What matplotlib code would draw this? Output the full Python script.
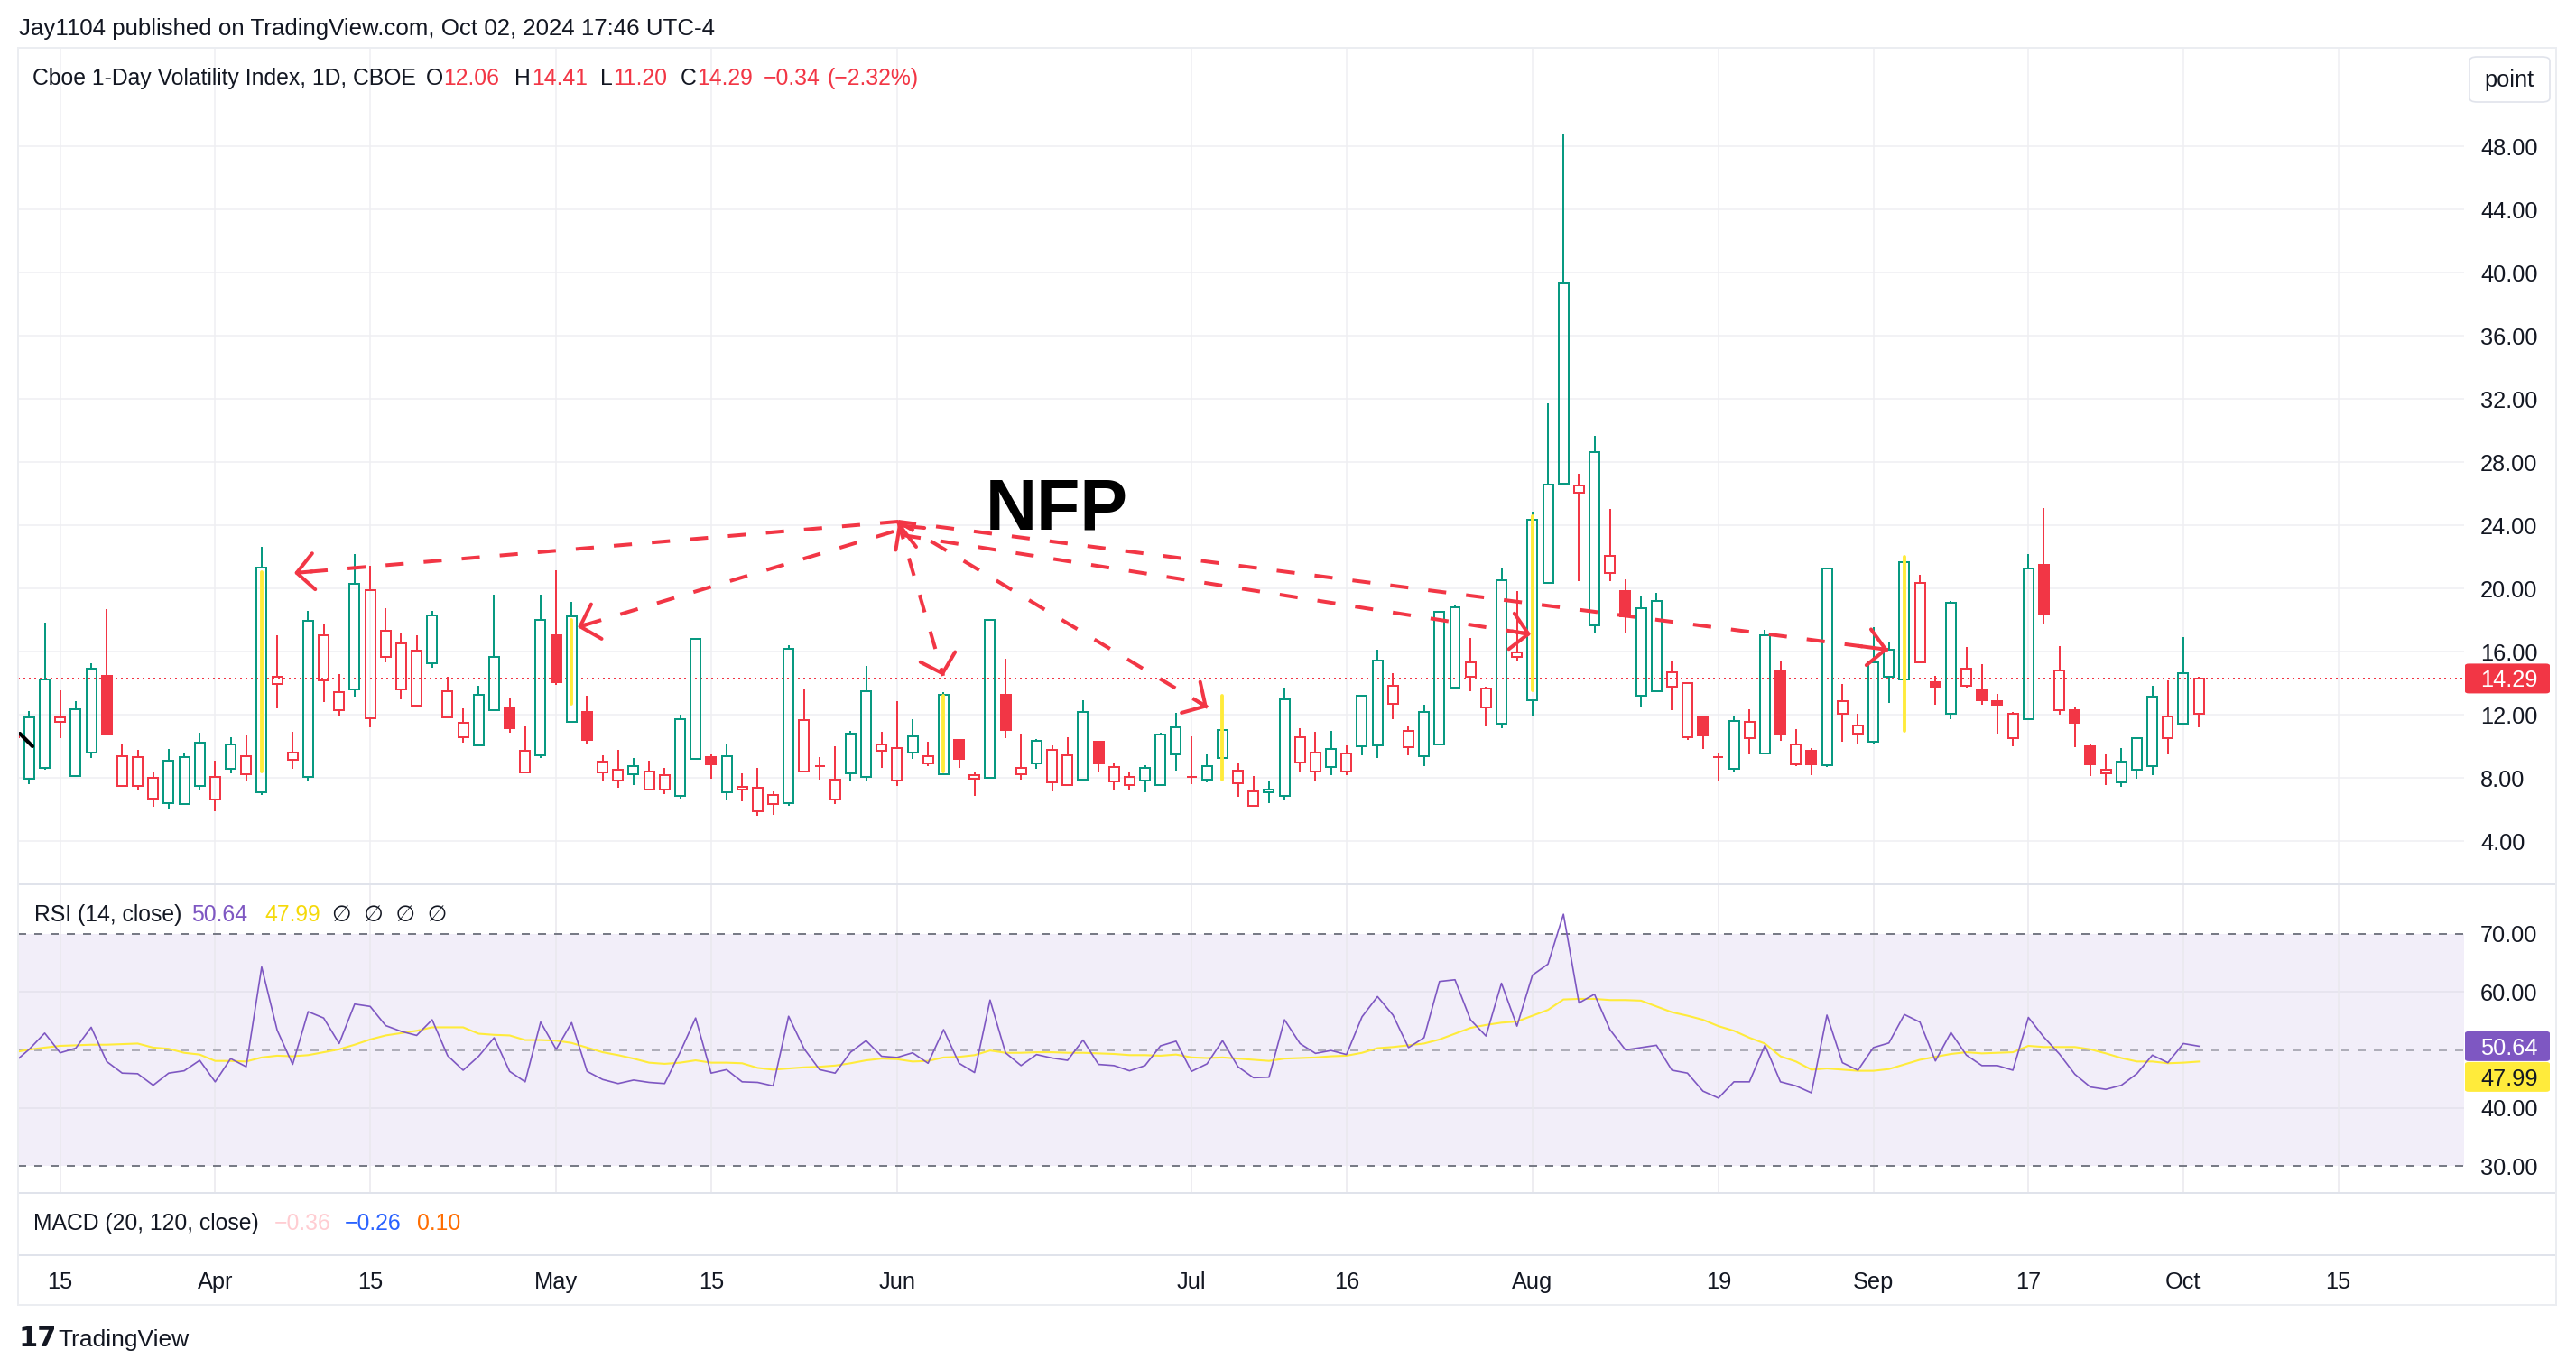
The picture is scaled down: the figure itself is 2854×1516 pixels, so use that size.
import matplotlib
matplotlib.use("Agg")
import matplotlib.pyplot as plt
from matplotlib.patches import Rectangle, FancyBboxPatch
from matplotlib.lines import Line2D
from matplotlib.transforms import blended_transform_factory

W, H = 2854, 1516
plt.rcParams['font.family'] = ['Liberation Sans', 'DejaVu Sans']

# ---- VIX1D daily candles, bar index 0 = Apr 1 2024, last bar = Oct 2 2024 ----
bar_idx = list(range(-13, 129))

opens = [10.55, 7.94, 8.61, 11.52, 8.10, 9.62, 14.48, 7.50, 7.47, 6.67,      # -13..-4
         6.42, 6.36, 7.47,                                                   # -3..-1
         6.61, 8.57, 8.23, 7.09, 13.94, 9.12, 8.04, 14.19, 12.27, 13.60,    # 0..9
         11.75, 15.66, 13.60, 12.57, 15.28, 11.81, 10.55, 10.04, 12.31, 12.42,
         8.32, 9.41, 17.05, 11.52, 12.19, 8.35, 7.84, 8.23, 7.28, 7.28,
         6.88, 9.18, 9.33, 7.09, 7.24, 5.91, 6.32, 6.42, 8.40, 8.75,
         6.61, 8.27, 8.04, 9.70, 7.85, 9.60, 8.90, 8.21, 10.42, 7.94,
         7.98, 13.28, 8.23, 8.90, 7.70, 7.52, 7.89, 10.27, 7.75, 7.52,
         7.81, 7.52, 9.50, 8.05, 7.90, 9.24, 7.66, 6.23, 7.09, 6.85,
         8.95, 8.38, 8.67, 8.42, 9.99, 10.04, 12.70, 9.94, 9.36, 10.10,
         13.71, 14.42, 12.48, 11.42, 15.65, 12.93, 20.37, 26.63, 26.08, 17.65,
         20.97, 19.83, 13.18, 13.48, 13.78, 10.55, 11.81, 9.33, 8.58, 10.52,
         9.55, 14.78, 8.88, 9.70, 8.79, 12.06, 10.82, 10.30, 14.38, 14.23,
         15.29, 14.08, 12.04, 13.85, 13.52, 12.84, 10.53, 11.73, 21.47, 12.31,
         12.30, 9.98, 8.29, 7.70, 8.54, 8.73, 10.53, 11.45, 12.06]

highs = [11.20, 12.23, 17.85, 13.52, 12.84, 15.24, 18.67, 10.19, 9.75, 8.42,
         9.85, 9.56, 10.84,
         9.07, 10.55, 10.70, 22.61, 17.05, 10.93, 18.59, 17.70, 14.55, 22.19,
         21.43, 18.76, 17.22, 17.05, 18.59, 14.42, 12.42, 13.85, 19.62, 13.07,
         11.33, 19.62, 21.12, 19.12, 13.18, 9.41, 9.75, 9.28, 9.09, 8.61,
         11.98, 16.85, 9.47, 10.13, 8.27, 8.61, 7.12, 16.38, 13.60, 9.33,
         9.98, 10.99, 15.09, 10.90, 12.84, 11.70, 10.27, 13.41, 10.48, 8.38,
         18.07, 15.56, 10.82, 10.48, 10.04, 10.55, 12.93, 10.27, 8.99, 8.38,
         8.80, 10.86, 12.13, 10.61, 9.47, 11.66, 8.99, 8.10, 7.81, 13.70,
         11.12, 10.93, 10.99, 10.04, 13.28, 16.13, 14.61, 11.33, 12.65, 18.55,
         18.93, 16.84, 13.78, 21.28, 19.83, 24.87, 31.74, 48.79, 27.23, 29.65,
         25.03, 20.58, 19.52, 19.74, 15.38, 13.99, 11.97, 9.55, 11.88, 12.36,
         17.35, 15.35, 11.06, 9.91, 21.34, 13.93, 12.03, 17.56, 16.65, 22.00,
         20.84, 14.48, 19.22, 16.27, 15.18, 13.33, 12.19, 22.19, 25.10, 16.32,
         12.46, 10.10, 9.47, 9.90, 10.51, 13.85, 14.17, 16.90, 14.41]

lows = [10.00, 7.62, 8.52, 10.51, 8.05, 9.28, 10.74, 7.43, 7.22, 6.17,
        6.08, 6.29, 7.28,
        5.89, 8.30, 7.75, 6.93, 12.40, 8.57, 7.81, 12.80, 11.94, 13.14,
        11.22, 15.31, 12.99, 12.57, 14.99, 11.81, 10.23, 10.04, 12.31, 10.86,
        8.32, 9.28, 13.91, 11.52, 10.11, 7.81, 7.37, 7.56, 7.18, 6.99,
        6.70, 9.15, 7.94, 6.57, 6.51, 5.62, 5.66, 6.23, 8.40, 7.89,
        6.32, 7.75, 7.75, 8.65, 7.50, 9.22, 8.76, 8.17, 8.65, 6.86,
        7.98, 10.51, 7.89, 8.55, 7.12, 7.52, 7.89, 8.32, 7.18, 7.28,
        7.09, 7.47, 8.48, 7.62, 7.71, 8.90, 6.80, 6.23, 6.42, 6.55,
        8.42, 7.75, 8.19, 8.19, 9.43, 9.28, 11.71, 9.43, 8.76, 10.10,
        13.71, 13.50, 11.30, 11.12, 15.44, 11.97, 20.37, 26.63, 20.43, 17.17,
        20.43, 17.20, 12.48, 13.48, 12.27, 10.39, 9.85, 7.79, 8.40, 9.49,
        9.55, 10.36, 8.73, 8.19, 8.70, 10.30, 10.09, 10.15, 12.72, 12.81,
        15.29, 12.61, 11.71, 13.71, 12.61, 10.80, 10.00, 11.73, 17.70, 12.00,
        9.94, 8.10, 7.52, 7.43, 7.94, 8.17, 9.47, 11.45, 11.20]

closes = [10.70, 11.85, 14.23, 11.81, 12.36, 14.93, 10.80, 9.37, 9.33, 8.00,
          9.09, 9.33, 10.23,
          8.08, 10.13, 9.37, 21.31, 14.38, 9.60, 17.94, 17.03, 13.43, 20.29,
          19.89, 17.31, 16.51, 16.04, 18.29, 13.47, 11.50, 13.24, 15.66, 11.14,
          9.71, 18.00, 14.08, 18.23, 10.40, 9.03, 8.54, 8.76, 8.42, 8.19,
          11.71, 16.80, 8.84, 9.37, 7.43, 7.37, 6.91, 16.19, 11.66, 8.73,
          7.89, 10.80, 13.47, 10.10, 9.89, 10.61, 9.37, 13.24, 9.22, 8.17,
          18.00, 11.05, 8.61, 10.36, 9.79, 9.43, 12.17, 8.90, 8.70, 8.04,
          8.65, 10.76, 11.22, 8.03, 8.76, 11.03, 8.46, 7.14, 7.28, 13.00,
          10.58, 9.60, 9.85, 9.52, 13.18, 15.43, 13.81, 10.99, 12.16, 18.51,
          18.80, 15.31, 13.63, 20.52, 15.96, 24.33, 26.57, 39.29, 26.54, 28.65,
          22.03, 18.25, 18.77, 19.22, 14.69, 13.99, 10.67, 9.29, 11.60, 11.57,
          17.01, 10.76, 10.09, 8.85, 21.28, 12.87, 11.30, 15.29, 16.14, 21.64,
          20.37, 13.79, 19.09, 14.93, 12.93, 12.65, 12.08, 21.28, 18.36, 14.80,
          11.47, 8.86, 8.50, 9.03, 10.51, 13.14, 11.89, 14.63, 14.29]
prev_close_first = 11.00

rsi = [47.8, 50.1, 52.9, 49.5, 50.3, 53.9, 48.0, 46.0, 45.9, 43.9,
       46.0, 46.4, 48.2,
       44.5, 48.5, 47.1, 64.3, 53.4, 47.5, 56.6, 55.5, 51.1, 57.9,
       57.5, 54.2, 53.2, 52.5, 55.2, 49.0, 46.5, 48.9, 52.1, 46.3,
       44.5, 54.8, 50.1, 54.7, 46.3, 44.9, 44.2, 44.8, 44.4, 44.2,
       49.6, 55.5, 46.0, 46.6, 44.5, 44.4, 43.8, 55.8, 50.2, 46.6,
       46.0, 49.6, 51.6, 48.9, 48.7, 49.5, 47.7, 53.5, 47.7, 46.1,
       58.6, 49.5, 47.3, 49.2, 48.6, 48.2, 51.7, 47.5, 47.3, 46.4,
       47.3, 50.7, 51.5, 46.3, 47.6, 51.6, 47.1, 45.2, 45.3, 55.2,
       51.1, 49.4, 49.9, 49.2, 55.7, 59.2, 56.0, 50.4, 52.1, 61.8,
       62.1, 55.2, 52.4, 61.5, 54.1, 62.9, 64.8, 73.4, 58.1, 59.6,
       53.5, 50.0, 50.4, 50.8, 46.5, 46.0, 42.9, 41.7, 44.5, 44.5,
       50.8, 44.5, 43.8, 42.6, 56.0, 47.8, 46.5, 50.4, 51.2, 56.1,
       54.8, 48.1, 53.0, 49.1, 47.3, 47.3, 46.5, 55.6, 52.2, 49.3,
       45.8, 43.6, 43.2, 43.9, 45.9, 49.1, 47.8, 51.1, 50.64]

rsi_ma = [49.6, 50.05, 50.4, 50.7, 50.8, 50.9, 50.9, 51.0, 51.1, 50.4,
          50.2, 49.5, 49.2,
          48.1, 48.1, 48.0, 48.7, 49.0, 48.9, 49.1, 49.6, 50.1, 50.9,
          51.8, 52.5, 52.9, 53.3, 53.9, 53.9, 53.9, 52.8, 52.6, 52.5,
          51.7, 51.7, 51.6, 51.2, 50.4, 49.6, 49.1, 48.5, 47.8, 47.6,
          47.8, 48.2, 47.8, 47.8, 47.7, 46.9, 46.6, 46.8, 47.0, 47.1,
          47.3, 47.7, 48.2, 48.5, 48.4, 48.0, 48.1, 48.7, 48.8, 49.1,
          49.9, 49.5, 49.5, 49.6, 49.6, 49.5, 49.5, 49.4, 49.3, 49.1,
          49.1, 49.0, 49.2, 48.7, 48.6, 48.7, 48.5, 48.3, 48.1, 48.5,
          48.6, 48.7, 48.9, 49.0, 49.5, 50.3, 50.5, 50.8, 51.1, 51.8,
          52.8, 53.8, 54.3, 54.7, 54.9, 55.9, 56.9, 58.7, 58.8, 58.8,
          58.6, 58.6, 58.5, 57.5, 56.5, 55.9, 55.2, 54.1, 53.3, 52.1,
          51.1, 48.9, 48.0, 46.6, 46.8, 46.6, 46.4, 46.4, 46.7, 47.5,
          48.3, 48.8, 49.3, 49.6, 49.4, 49.5, 49.6, 50.7, 50.5, 50.5,
          50.5, 50.1, 49.4, 48.6, 48.0, 48.0, 47.7, 47.8, 47.99]

tick_idx = [-10, 0, 10, 22, 32, 44, 63, 73, 85, 97, 107, 117, 127, 137]
tick_lbl = ['15', 'Apr', '15', 'May', '15', 'Jun', 'Jul', '16', 'Aug', '19',
            'Sep', '17', 'Oct', '15']
price_ticks = [4, 8, 12, 16, 20, 24, 28, 32, 36, 40, 44, 48]
rsi_ticks = [30, 40, 60, 70]

last_price = 14.29
rsi_last = 50.64
rsi_ma_last = 47.99

# NFP highlighter strokes: (bar, low, high)
nfp_marks = [(3, 8.38, 21.03), (23, 12.67, 17.98), (47, 8.42, 13.18),
             (65, 7.89, 13.18), (85, 13.54, 24.57), (109, 11.0, 22.0)]
# NFP arrows: (start bar, start price, tip bar, tip price)
nfp_arrows = [(44.07, 24.23, 5.10, 20.97),
              (43.77, 23.60, 23.39, 17.54),
              (44.07, 24.23, 46.98, 14.46),
              (44.07, 24.23, 64.04, 12.46),
              (44.36, 23.37, 84.90, 17.09),
              (44.07, 24.23, 107.95, 16.11)]
apex_head = (45.23, 22.63, 44.07, 24.11)

GREEN = '#089981'
RED = '#F23645'
TXT = '#131722'
GRID = '#EFEFF2'
SEP = '#E0E3EB'
PURPLE = '#7E57C2'
YELLOW = '#FFEB3B'
FS = 18.3
FL = 17.8

XL = ((20 - 238.4) / 17.17, (2730 - 238.4) / 17.17)


def rect(x0, y0, x1, y1):
    return [x0 / W, 1 - y1 / H, (x1 - x0) / W, (y1 - y0) / H]


fig = plt.figure(figsize=(W / 100, H / 100), dpi=100)
fig.patch.set_facecolor('white')

# ---------------- price pane ----------------
ax = fig.add_axes(rect(20, 53, 2730, 980))
ax.set_xlim(*XL)
ax.set_ylim(48 - (980 - 162) / 17.5, 48 + (162 - 53) / 17.5)
for s in ax.spines.values():
    s.set_visible(False)
ax.set_xticks([])
ax.yaxis.tick_right()
ax.set_yticks(price_ticks)
ax.set_yticklabels(['%.2f' % v for v in price_ticks])
ax.tick_params(axis='y', length=0, pad=13, labelsize=FS, labelcolor=TXT)
for v in price_ticks:
    ax.axhline(v, color=GRID, lw=1.1, zorder=0.5)
for i in tick_idx:
    ax.axvline(i, color=GRID, lw=1.1, zorder=0.5)

ax.axhline(last_price, color=RED, lw=1.44, linestyle=(0, (1, 2)), zorder=1.5)

pc = prev_close_first
for i, o, h, l, c in zip(bar_idx, opens, highs, lows, closes):
    col = GREEN if c >= pc else RED
    pc = c
    lo, hi = min(o, c), max(o, c)
    ax.vlines(i, hi, h, color=col, lw=1.44, zorder=2)
    ax.vlines(i, l, lo, color=col, lw=1.44, zorder=2)
    ax.add_patch(Rectangle((i - 0.32, lo), 0.64, hi - lo,
                           facecolor='none' if c >= o else col,
                           edgecolor=col, lw=1.44, zorder=2.1))

for i, lo, hi in nfp_marks:
    ax.plot([i, i], [lo, hi], color=YELLOW, lw=2.8, solid_capstyle='round', zorder=3)

head = '->,head_length=0.68,head_width=0.72'
for x0, y0, x1, y1 in nfp_arrows:
    ax.plot([x0, x1], [y0, y1], color=RED, lw=2.9, dashes=(5, 5.5), zorder=4)
    ax.annotate('', xy=(x1, y1), xytext=(x1 + (x0 - x1) * 0.03, y1 + (y0 - y1) * 0.03),
                arrowprops=dict(arrowstyle=head, color=RED, lw=2.9, shrinkA=0,
                                shrinkB=0, mutation_scale=20), zorder=4)
ax.annotate('', xy=apex_head[2:], xytext=apex_head[:2],
            arrowprops=dict(arrowstyle=head, color=RED, lw=2.9, shrinkA=0, shrinkB=0,
                            mutation_scale=20), zorder=4)

ax.plot([-12.6, -11.79], [10.8, 10.0], color='black', lw=3, solid_capstyle='round', zorder=5)

ax.text(49.7, 23.77, 'NFP', fontsize=57, fontweight='bold', color='black',
        va='baseline', ha='left', zorder=6)

# ---------------- RSI pane ----------------
axr = fig.add_axes(rect(20, 980, 2730, 1322))
axr.set_xlim(*XL)
axr.set_ylim(30 - (1322 - 1292) / 6.425, 70 + (1035 - 980) / 6.425)
for s in axr.spines.values():
    s.set_visible(False)
axr.set_xticks([])
axr.yaxis.tick_right()
axr.set_yticks(rsi_ticks)
axr.set_yticklabels(['%.2f' % v for v in rsi_ticks])
axr.tick_params(axis='y', length=0, pad=13, labelsize=FS, labelcolor=TXT)
axr.axhspan(30, 70, color='#F2EEF9', lw=0, zorder=0)
for v in (40, 60):
    axr.axhline(v, color='#E4E1EC', lw=1.1, zorder=0.5)
for i in tick_idx:
    axr.axvline(i, color='#E9E8EE', lw=1.1, zorder=0.5)
for v in (30, 70):
    axr.axhline(v, color='#787B86', lw=1.44, dashes=(4.5, 4.5), zorder=1)
axr.axhline(50, color='#787B86', alpha=0.55, lw=1.44, dashes=(4.5, 4.5), zorder=1)
axr.plot(bar_idx, rsi_ma, color=YELLOW, lw=1.5, zorder=2)
axr.plot(bar_idx, rsi, color=PURPLE, lw=1.2, zorder=3)

# ---------------- MACD pane + time scale ----------------
axm = fig.add_axes(rect(20, 1322, 2730, 1391))
axm.set_xlim(*XL)
axm.axis('off')

axt = fig.add_axes(rect(20, 1391, 2730, 1446))
axt.set_xlim(*XL)
axt.axis('off')
tt = blended_transform_factory(axt.transData, axt.transAxes)
for i, lbl in zip(tick_idx, tick_lbl):
    axt.text(i, 0.327, lbl, transform=tt, ha='center', va='baseline',
             fontsize=FS, color=TXT)

# ---------------- frame and separators ----------------
def hline(y, x0=20, x1=2832, color=SEP, lw=1.44):
    fig.add_artist(Line2D([x0 / W, x1 / W], [1 - y / H] * 2, color=color, lw=lw,
                          transform=fig.transFigure, zorder=3))


def vline(x, y0, y1, color=SEP, lw=1.44):
    fig.add_artist(Line2D([x / W] * 2, [1 - y0 / H, 1 - y1 / H], color=color, lw=lw,
                          transform=fig.transFigure, zorder=3))


hline(53, color='#EBEDF1')
hline(980)
hline(1322)
hline(1391)
hline(1446, color='#EBEDF1')
vline(20, 53, 1446, color='#EBEDF1')
vline(2832, 53, 1446, color='#EBEDF1')


# ---------------- axis value labels ----------------
def value_box(axis, val, txt, fc, tc, min_top=None):
    yc = H - axis.transData.transform((0, val))[1]
    h = 33
    top = yc - h / 2
    if min_top is not None and top < min_top:
        top = min_top
    fig.add_artist(FancyBboxPatch((2731 / W, 1 - (top + h) / H), (2825 - 2731) / W, h / H,
                                  boxstyle='round,pad=0,rounding_size=0.0015',
                                  transform=fig.transFigure, fc=fc, ec='none', zorder=5))
    fig.text(2748 / W, 1 - (top + h / 2) / H, txt, fontsize=FS, color=tc,
             ha='left', va='center_baseline', zorder=6)
    return top + h


fig.canvas.draw()
renderer = fig.canvas.get_renderer()
value_box(ax, last_price, '%.2f' % last_price, RED, 'white')
b = value_box(axr, rsi_last, '%.2f' % rsi_last, PURPLE, 'white')
value_box(axr, rsi_ma_last, '%.2f' % rsi_ma_last, YELLOW, TXT, min_top=b + 1)

# "point" button
fig.add_artist(FancyBboxPatch((2736 / W, 1 - 113 / H), 89 / W, 50 / H,
                              boxstyle='round,pad=0,rounding_size=0.003',
                              transform=fig.transFigure, fc='white', ec='#E0E3EB',
                              lw=1.2, zorder=5))
fig.text(2780 / W, 1 - 96 / H, 'point', fontsize=FS, color=TXT, ha='center',
         va='baseline', zorder=6)

# ---------------- texts ----------------
def ftext(x, y, s, color=TXT, size=FL, **kw):
    return fig.text(x / W, 1 - y / H, s, color=color, fontsize=size, va='baseline',
                    ha='left', zorder=6, **kw)


def right_end(t):
    return t.get_window_extent(renderer).x1


def legend_row(y, parts):
    # parts: (text, colour, preferred x, minimum gap to previous)
    end = 0
    for s, col, x, gap in parts:
        x = max(x, end + gap)
        end = right_end(ftext(x, y, s, col))


ftext(21, 39, 'Jay1104 published on TradingView.com, Oct 02, 2024 17:46 UTC-4', size=18.6)

legend_row(94, [('Cboe 1-Day Volatility Index, 1D, CBOE', TXT, 36.5, 0),
                ('O', TXT, 464.6, 10), ('12.06', RED, 0, 1),
                ('H', TXT, 570, 14), ('14.41', RED, 0, 1),
                ('L', TXT, 658, 14), ('11.20', RED, 0, 1),
                ('C', TXT, 748, 14), ('14.29', RED, 0, 1),
                ('\u22120.34', RED, 835, 12), ('(\u22122.32%)', RED, 900, 8)])

legend_row(1021, [('RSI (14, close)', TXT, 37.5, 0), ('50.64', PURPLE, 212.5, 10),
                  ('47.99', '#F5D90A', 293, 10),
                  ('\u2205  \u2205  \u2205  \u2205', TXT, 368, 10)])

legend_row(1363, [('MACD (20, 120, close)', TXT, 37, 0), ('\u22120.36', '#FFCDD2', 303.6, 10),
                  ('\u22120.26', '#2962FF', 382, 10), ('0.10', '#FF6D00', 461.6, 10)])

ftext(20, 1492, '17', size=22, fontweight='heavy', family=['DejaVu Sans'])
ftext(64, 1492, 'TradingView', size=19)

fig.savefig('out.png', dpi=100, facecolor='white')
